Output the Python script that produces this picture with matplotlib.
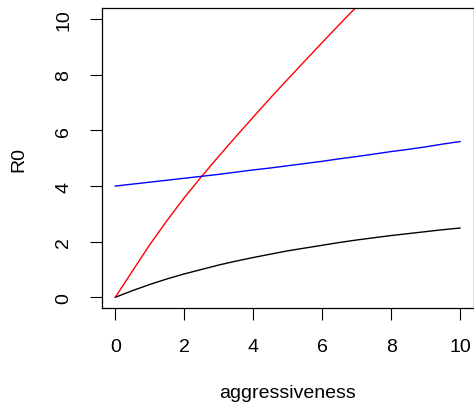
import numpy as np
import matplotlib
matplotlib.use('Agg')
from matplotlib import pyplot as plt

plt.rcParams['font.family'] = ['Liberation Sans', 'DejaVu Sans']

# aggressiveness grid and R0 for the three cases
aggr = [0, 0.5, 1, 1.5, 2, 2.5, 3, 3.5, 4, 4.5, 5,
        5.5, 6, 6.5, 7, 7.5, 8, 8.5, 9, 9.5, 10]
r0_black = [0.00, 0.24, 0.46, 0.66, 0.84, 1.00, 1.16, 1.30, 1.43, 1.55, 1.67,
            1.77, 1.87, 1.97, 2.06, 2.14, 2.22, 2.29, 2.36, 2.43, 2.49]
r0_red = [0.00, 0.95, 1.89, 2.76, 3.58, 4.34, 5.07, 5.78, 6.48, 7.17, 7.84,
          8.50, 9.16, 9.81, 10.45, 11.09, 11.72, 12.35, 12.97, 13.59, 14.20]
r0_blue = [4.00, 4.07, 4.14, 4.21, 4.28, 4.35, 4.42, 4.50, 4.58, 4.65, 4.73,
           4.81, 4.89, 4.98, 5.06, 5.15, 5.24, 5.32, 5.41, 5.51, 5.60]

fig = plt.figure(figsize=(4.74, 4.06), dpi=100)
W, H = 474, 406
x0, x1, y0, y1 = 101.5, 473.8, 9.1, 309.4   # plot region in pixels
ax = fig.add_axes([x0 / W, 1 - y1 / H, (x1 - x0) / W, (y1 - y0) / H])

ax.plot(aggr, r0_black, color='black', lw=1.0)
ax.plot(aggr, r0_red, color='red', lw=1.0)
ax.plot(aggr, r0_blue, color='blue', lw=1.0)

ax.set_xlim(-0.4, 10.4)
ax.set_ylim(-0.4, 10.4)
ax.set_xticks([0, 2, 4, 6, 8, 10])
ax.set_yticks([0, 2, 4, 6, 8, 10])
ax.set_yticklabels(['0', '2', '4', '6', '8', '10'], rotation=90, va='center')
ax.tick_params(direction='out', length=8.6, width=0.8, pad=12.5,
               labelsize=14, colors='black')

for s in ax.spines.values():
    s.set_linewidth(0.9)

# axis titles placed on fixed lines below / left of the box
ax.set_xlabel('aggressiveness', fontsize=14, va='center')
ax.xaxis.set_label_coords(0.5, (y1 - 394) / (y1 - y0))
ax.set_ylabel('R0', fontsize=14, va='center')
ax.yaxis.set_label_coords((19 - x0) / (x1 - x0), 0.5)

fig.savefig('out.png', dpi=100, facecolor='white')
